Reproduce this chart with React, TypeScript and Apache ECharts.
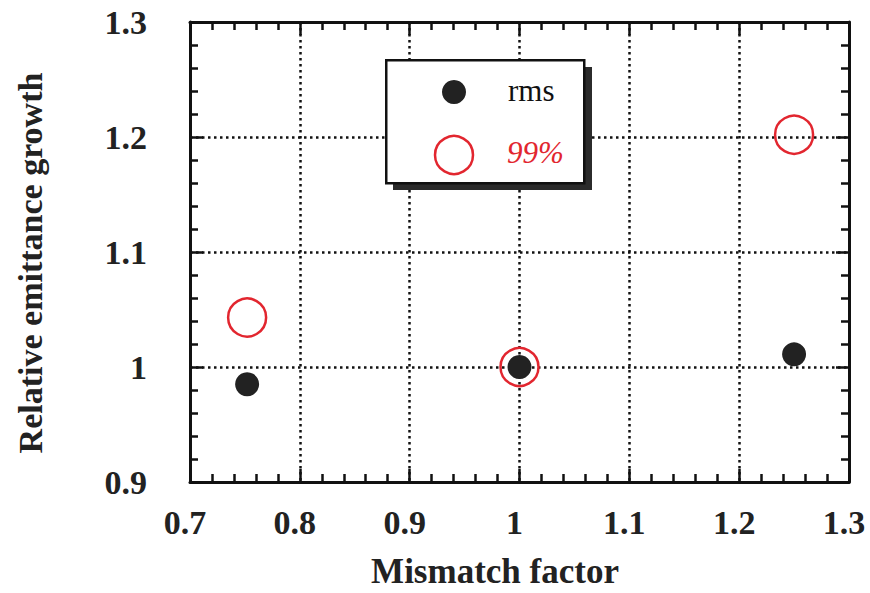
import React, { useEffect, useRef } from "react";
import * as echarts from "echarts";

// Mismatch factor vs. relative emittance growth
const rmsPoints: [number, number][] = [
  [0.752, 0.985],
  [1.0, 1.0],
  [1.25, 1.011],
];
const p99Points: [number, number][] = [
  [0.752, 1.043],
  [1.0, 1.0],
  [1.25, 1.202],
];
const seriesNames = ["rms", "99%"];
const xTicks = [0.7, 0.8, 0.9, 1.0, 1.1, 1.2, 1.3];
const yTicks = [0.9, 1.0, 1.1, 1.2, 1.3];
const xTitle = "Mismatch factor";
const yTitle = "Relative emittance growth";

const SERIF = "'Liberation Serif', 'DejaVu Serif', serif";
const RED = "#e2262f";
const DARK = "#222";

const fmt = (v: number) => (Math.abs(v - 1) < 1e-9 ? "1" : String(+v.toFixed(1)));

export default function App() {
  const ref = useRef<HTMLDivElement>(null);

  useEffect(() => {
    if (!ref.current) return;
    document.body.style.margin = "0";
    document.body.style.overflow = "hidden";
    const chart = echarts.init(ref.current, undefined, { renderer: "svg" });

    const axisLine = { show: true, lineStyle: { color: "#111", width: 3 } };
    const tick = { show: true, inside: true, length: 13, lineStyle: { color: "#111", width: 2.5 } };
    const minor = { show: true, splitNumber: 5, length: 8, lineStyle: { color: "#111", width: 2.5 } };
    const grid = { show: true, lineStyle: { color: "#111", width: 2.5, type: [2.5, 3.5] as any } };
    const labelStyle = { fontFamily: SERIF, fontWeight: "bold" as const, fontSize: 34, color: "#222" };

    const xBase = {
      type: "value" as const,
      min: xTicks[0],
      max: xTicks[xTicks.length - 1],
      interval: 0.1,
      axisLine,
      axisTick: tick,
      minorTick: minor,
    };
    const yBase = {
      type: "value" as const,
      min: yTicks[0],
      max: yTicks[yTicks.length - 1],
      interval: 0.1,
      axisLine,
      axisTick: tick,
      minorTick: minor,
    };

    chart.setOption({
      animation: false,
      backgroundColor: "#fff",
      grid: { left: 190, right: 21, top: 22, bottom: 111, outerBoundsMode: "none" },
      xAxis: [
        {
          ...xBase,
          position: "bottom",
          splitLine: grid,
          axisLabel: { ...labelStyle, margin: 23, padding: [0, 10, 0, 0], formatter: fmt },
        },
        {
          ...xBase,
          position: "top",
          splitLine: { show: false },
          axisLabel: { show: false },
        },
      ],
      yAxis: [
        {
          ...yBase,
          position: "left",
          splitLine: grid,
          axisLabel: { ...labelStyle, margin: 43, formatter: fmt },
          name: yTitle,
          nameLocation: "middle",
          nameRotate: 90,
          nameGap: 143,
          nameTextStyle: { ...labelStyle, fontSize: 34, padding: [0, 22, 0, 0] },
        },
        {
          ...yBase,
          position: "right",
          splitLine: { show: false },
          axisLabel: { show: false },
        },
      ],
      graphic: [
        // x-axis title
        {
          type: "text",
          x: 495,
          y: 571,
          style: {
            text: xTitle,
            font: `bold 35px ${SERIF}`,
            fill: "#222",
            align: "center",
            verticalAlign: "middle",
          },
          z: 12,
        },
        // legend box with drop shadow
        { type: "rect", left: 393, top: 67, shape: { width: 199, height: 123 }, style: { fill: "#2b2b2b" }, z: 10 },
        {
          type: "rect",
          left: 385,
          top: 59,
          shape: { width: 198, height: 123 },
          style: { fill: "#fff", stroke: "#111", lineWidth: 2.5 },
          z: 11,
        },
        { type: "circle", shape: { cx: 454, cy: 92, r: 12 }, style: { fill: DARK }, z: 12 },
        {
          type: "text",
          left: 508,
          top: 75,
          style: { text: seriesNames[0], font: `31px ${SERIF}`, fill: "#111" },
          z: 12,
        },
        {
          type: "circle",
          shape: { cx: 454, cy: 155, r: 19 },
          style: { fill: "none", stroke: RED, lineWidth: 2.5 },
          z: 12,
        },
        {
          type: "text",
          left: 507,
          top: 137,
          style: { text: seriesNames[1], font: `italic 31px ${SERIF}`, fill: RED },
          z: 12,
        },
      ],
      series: [
        {
          name: seriesNames[0],
          type: "scatter",
          data: rmsPoints,
          symbol: "circle",
          symbolSize: 24,
          itemStyle: { color: DARK, opacity: 1 },
          z: 3,
        },
        {
          name: seriesNames[1],
          type: "scatter",
          data: p99Points,
          symbol: "circle",
          symbolSize: 38,
          itemStyle: { color: "rgba(0,0,0,0)", borderColor: RED, borderWidth: 2.5, opacity: 1 },
          z: 4,
        },
      ],
    });

    return () => chart.dispose();
  }, []);

  return (
    <div
      ref={ref}
      style={{ position: "fixed", left: 0, top: 0, width: 870, height: 593 }}
    />
  );
}
